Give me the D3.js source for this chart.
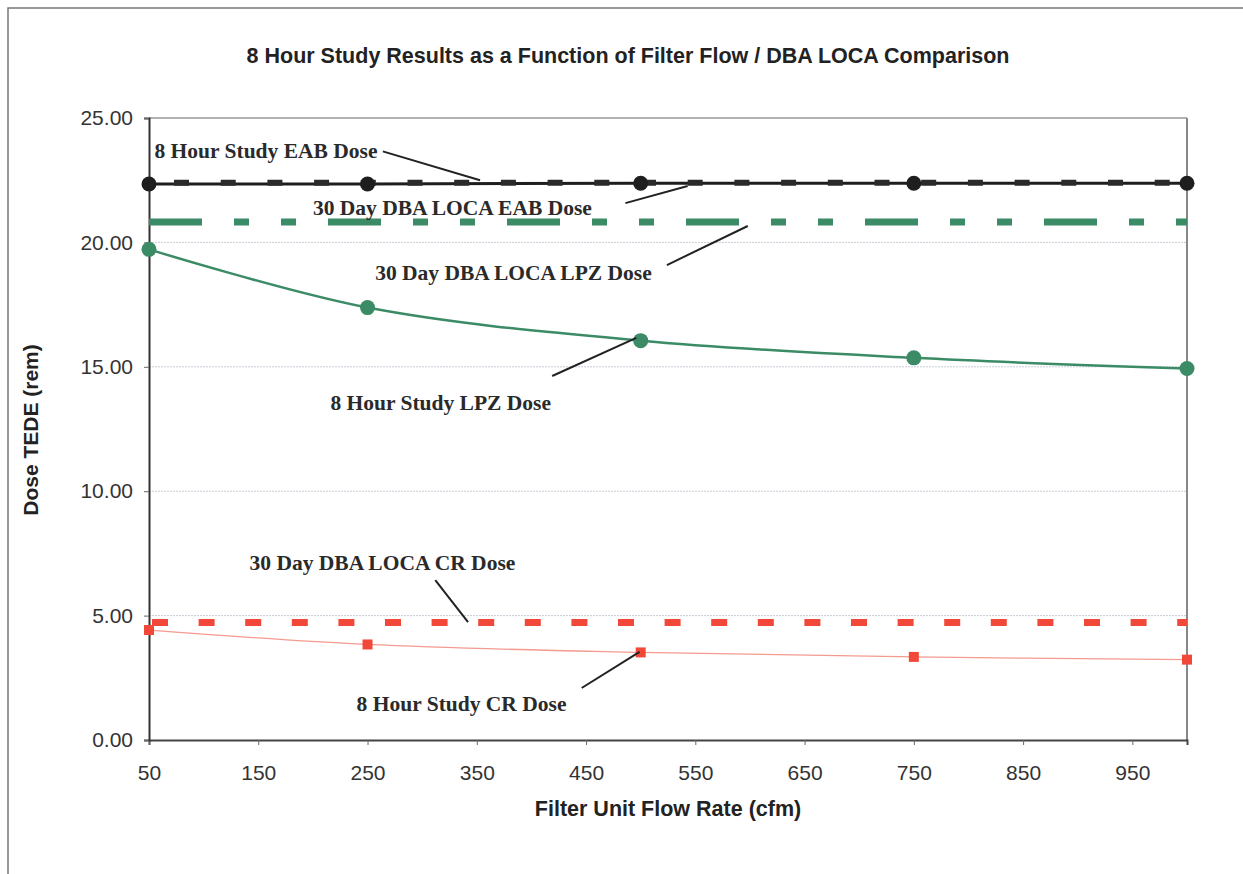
<!DOCTYPE html>
<html>
<head>
<meta charset="utf-8">
<script src="https://cdn.jsdelivr.net/npm/d3@7"></script>
<style>
  body { margin: 0; background: #fff; }
</style>
</head>
<body>
<script>
// flow rates studied (cfm)
var flowRates = [50, 250, 500, 750, 1000];
// 8 hour study doses (rem)
var eab8 = [22.35, 22.35, 22.38, 22.38, 22.38];
var lpz8 = [19.72, 17.38, 16.05, 15.36, 14.93];
var cr8 = [4.42, 3.84, 3.52, 3.34, 3.23];
// 30 day DBA LOCA doses, constant over the range
var rangeEnds = [50, 1000];
var eab30 = [22.4, 22.4];
var lpz30 = [20.82, 20.82];
var cr30 = [4.72, 4.72];

var xTicks = [50, 150, 250, 350, 450, 550, 650, 750, 850, 950];
var yTicks = [0, 5, 10, 15, 20, 25];

// callouts: text anchor + leader line, in data units
var notes = [
  {text: "8 Hour Study EAB Dose", x: 55, y: 23.4, from: [264, 23.66], to: [353, 22.5]},
  {text: "30 Day DBA LOCA EAB Dose", x: 200, y: 21.12, from: [486, 21.58], to: [543, 22.27]},
  {text: "30 Day DBA LOCA LPZ Dose", x: 257, y: 18.49, from: [524, 19.09], to: [598, 20.66]},
  {text: "8 Hour Study LPZ Dose", x: 216, y: 13.26, from: [419, 14.63], to: [496, 16.16]},
  {text: "30 Day DBA LOCA CR Dose", x: 142, y: 6.83, from: [312, 6.43], to: [342, 4.74]},
  {text: "8 Hour Study CR Dose", x: 240, y: 1.17, from: [446, 2.09], to: [499, 3.54]}
];

var green = "#3b8b66", red = "#f2483a", black = "#1e1e1e";

var svg = d3.select("body")
    .append("svg")
    .attr("width", 1243)
    .attr("height", 874)
    .style("display", "block");

var margin = {top: 118, left: 149};
var width = 1038, height = 622;

// outer frame
svg.append("rect")
    .attr("x", 8).attr("y", 8)
    .attr("width", 1260).attr("height", 900)
    .attr("fill", "none")
    .attr("stroke", "#777")
    .attr("stroke-width", 1.5);

var g = svg.append("g").attr("transform", "translate(" + margin.left + "," + margin.top + ")");

var x = d3.scaleLinear().domain([50, 1000]).range([0, width]);
var y = d3.scaleLinear().domain([0, 25]).range([height, 0]);

// gridlines
g.append("g")
    .selectAll("line")
    .data(yTicks.slice(1, 5))
    .enter().append("line")
    .attr("x1", 0).attr("x2", width)
    .attr("y1", function(d) { return y(d); })
    .attr("y2", function(d) { return y(d); })
    .attr("stroke", "#c8ccd6")
    .attr("stroke-width", 1)
    .attr("stroke-dasharray", "2,1");

// plot frame top / right
g.append("line").attr("x1", 0).attr("x2", width).attr("y1", 0).attr("y2", 0)
    .attr("stroke", "#999").attr("stroke-width", 1.5);
g.append("line").attr("x1", width).attr("x2", width).attr("y1", 0).attr("y2", height)
    .attr("stroke", "#888").attr("stroke-width", 2);

var xAxis = d3.axisBottom(x).tickValues(xTicks).tickSize(5).tickFormat(d3.format("d"));
var yAxis = d3.axisLeft(y).tickValues(yTicks).tickSize(5).tickFormat(d3.format(".2f"));

g.append("g")
    .attr("transform", "translate(0," + height + ")")
    .call(xAxis)
    .call(function(a) {
      a.select(".domain").attr("stroke", "#444").attr("stroke-width", 2);
      a.selectAll(".tick line").attr("stroke", "#666");
      a.selectAll("text").attr("y", 25).attr("fill", "#333")
        .style("font-family", "'Liberation Sans', Arial, sans-serif").style("font-size", "21px");
    });

g.append("g")
    .call(yAxis)
    .call(function(a) {
      a.select(".domain").attr("stroke", "#333").attr("stroke-width", 2);
      a.selectAll(".tick line").attr("stroke", "#666");
      a.selectAll("text").attr("x", -16).attr("fill", "#333")
        .style("font-family", "'Liberation Sans', Arial, sans-serif").style("font-size", "21px");
    });

function series(xs, ys) {
  return xs.map(function(d, i) { return [d, ys[i]]; });
}

var straight = d3.line().x(function(d) { return x(d[0]); }).y(function(d) { return y(d[1]); });
var smooth = d3.line().x(function(d) { return x(d[0]); }).y(function(d) { return y(d[1]); })
    .curve(d3.curveCatmullRom.alpha(0.5));

// 30 day LPZ (long-short-short dashes)
g.append("path").datum(series(rangeEnds, lpz30))
    .attr("d", straight).attr("fill", "none")
    .attr("stroke", green).attr("stroke-width", 7)
    .attr("stroke-dasharray", "53,32,15,32,15,32");

// 30 day CR
g.append("path").datum(series(rangeEnds, cr30))
    .attr("d", straight).attr("fill", "none")
    .attr("stroke", red).attr("stroke-width", 7)
    .attr("stroke-dasharray", "16,30.6")
    .attr("stroke-dashoffset", -3);

// 8 hour CR
g.append("path").datum(series(flowRates, cr8))
    .attr("d", smooth).attr("fill", "none")
    .attr("stroke", "#f59a8e").attr("stroke-width", 1.3);

g.selectAll(".cr")
    .data(series(flowRates, cr8))
    .enter().append("rect")
    .attr("x", function(d) { return x(d[0]) - 5; })
    .attr("y", function(d) { return y(d[1]) - 5; })
    .attr("width", 10).attr("height", 10)
    .attr("fill", red);

// 8 hour LPZ
g.append("path").datum(series(flowRates, lpz8))
    .attr("d", smooth).attr("fill", "none")
    .attr("stroke", green).attr("stroke-width", 2.5);

g.selectAll(".lpz")
    .data(series(flowRates, lpz8))
    .enter().append("circle")
    .attr("cx", function(d) { return x(d[0]); })
    .attr("cy", function(d) { return y(d[1]); })
    .attr("r", 7.5)
    .attr("fill", green);

// 8 hour EAB
g.append("path").datum(series(flowRates, eab8))
    .attr("d", straight).attr("fill", "none")
    .attr("stroke", black).attr("stroke-width", 3);

// 30 day EAB dashes laid over it
g.append("path").datum(series(rangeEnds, eab30))
    .attr("d", straight).attr("fill", "none")
    .attr("stroke", "#2a2a2a").attr("stroke-width", 6)
    .attr("stroke-dasharray", "15,31.7")
    .attr("stroke-dashoffset", -25);

g.selectAll(".eab")
    .data(series(flowRates, eab8))
    .enter().append("circle")
    .attr("cx", function(d) { return x(d[0]); })
    .attr("cy", function(d) { return y(d[1]); })
    .attr("r", 7.5)
    .attr("fill", black);

// callouts
var note = g.append("g");
note.selectAll("line")
    .data(notes)
    .enter().append("line")
    .attr("x1", function(d) { return x(d.from[0]); })
    .attr("y1", function(d) { return y(d.from[1]); })
    .attr("x2", function(d) { return x(d.to[0]); })
    .attr("y2", function(d) { return y(d.to[1]); })
    .attr("stroke", "#222").attr("stroke-width", 2);

note.selectAll("text")
    .data(notes)
    .enter().append("text")
    .attr("x", function(d) { return x(d.x); })
    .attr("y", function(d) { return y(d.y); })
    .attr("fill", "#2a2a2a")
    .style("font-family", "'Liberation Serif', 'Times New Roman', serif")
    .style("font-weight", "bold")
    .style("font-size", "21.5px")
    .text(function(d) { return d.text; });

// titles
svg.append("text")
    .attr("x", 628).attr("y", 63)
    .attr("text-anchor", "middle")
    .style("font-family", "'Liberation Sans', Arial, sans-serif")
    .style("font-weight", "bold")
    .style("font-size", "21.5px")
    .attr("fill", "#222")
    .text("8 Hour Study Results as a Function of Filter Flow / DBA LOCA Comparison");

svg.append("text")
    .attr("x", 668).attr("y", 816)
    .attr("text-anchor", "middle")
    .style("font-family", "'Liberation Sans', Arial, sans-serif")
    .style("font-weight", "bold")
    .style("font-size", "21.5px")
    .attr("fill", "#222")
    .text("Filter Unit Flow Rate (cfm)");

svg.append("text")
    .attr("transform", "translate(38,430) rotate(-90)")
    .attr("text-anchor", "middle")
    .style("font-family", "'Liberation Sans', Arial, sans-serif")
    .style("font-weight", "bold")
    .style("font-size", "21px")
    .attr("fill", "#222")
    .text("Dose TEDE (rem)");
</script>
</body>
</html>
